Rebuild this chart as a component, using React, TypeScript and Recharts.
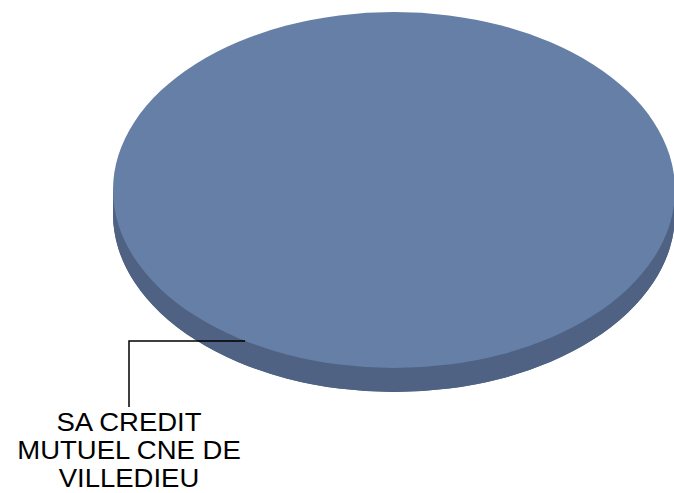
import React from "react";
import { PieChart, Pie, Cell } from "recharts";

const categories: string[] = ["SA CREDIT MUTUEL CNE DE VILLEDIEU"];
const values: number[] = [100];
const topColors: string[] = ["#657fa6"];
const sideColors: string[] = ["#4f6283"];

const data = categories.map((name, i) => ({ name, value: values[i] }));

const ASPECT = 281 / 178; // horizontal stretch of the tilted pie
const DEPTH = 24;
const RADIAN = Math.PI / 180;

function wrap(text: string, max: number): string[] {
  const words = text.split(" ");
  const lines: string[] = [];
  let cur = "";
  words.forEach((w) => {
    const next = cur ? cur + " " + w : w;
    if (next.length > max && cur) {
      lines.push(cur);
      cur = w;
    } else {
      cur = next;
    }
  });
  if (cur) lines.push(cur);
  return lines;
}

const PieShape = (props: any) => {
  const { cx, cy, outerRadius, fill, index } = props;
  const ry = outerRadius;
  const rx = outerRadius * ASPECT;
  const side = sideColors[index % sideColors.length];
  const sidePath = `M ${cx - rx} ${cy} L ${cx - rx} ${cy + DEPTH} A ${rx} ${ry} 0 0 0 ${cx + rx} ${cy + DEPTH} L ${cx + rx} ${cy} Z`;
  return (
    <g>
      <path d={sidePath} fill={side} />
      <ellipse cx={cx} cy={cy + DEPTH} rx={rx} ry={ry} fill={side} />
      <ellipse cx={cx} cy={cy} rx={rx} ry={ry} fill={fill} />
    </g>
  );
};

const renderLabel = (props: any) => {
  const { cx, cy, midAngle, outerRadius, name } = props;
  const ry = outerRadius;
  const rx = outerRadius * ASPECT;
  const sx = cx + rx * Math.cos(-midAngle * RADIAN);
  const sy = cy + ry * Math.sin(-midAngle * RADIAN);
  const ex = 129;
  const ey = sy + 66;
  const lines = wrap(String(name), 13);
  return (
    <g>
      <polyline
        points={`${sx},${sy} ${ex},${sy} ${ex},${ey}`}
        fill="none"
        stroke="#000"
        strokeWidth={1.5}
      />
      <text
        x={ex}
        y={ey + 24}
        textAnchor="middle"
        fontFamily="'Liberation Sans', Arial, sans-serif"
        fontSize={25}
        fill="#000"
        transform={`translate(${ex},0) scale(1.1,1) translate(${-ex},0)`}
      >
        {lines.map((l, i) => (
          <tspan key={i} x={ex} dy={i === 0 ? 0 : 28}>
            {l}
          </tspan>
        ))}
      </text>
    </g>
  );
};

export default function App() {
  return (
    <div style={{ position: "absolute", left: 0, top: 0, width: 674, height: 493, background: "#fff" }}>
      <PieChart width={674} height={493} margin={{ top: 0, right: 0, bottom: 0, left: 0 }}>
        <Pie
          data={data}
          dataKey="value"
          nameKey="name"
          cx={394}
          cy={190}
          outerRadius={178}
          startAngle={58}
          endAngle={418}
          stroke="none"
          shape={PieShape}
          label={renderLabel}
          labelLine={false}
          isAnimationActive={false}
        >
          {data.map((d, i) => (
            <Cell key={d.name} fill={topColors[i % topColors.length]} />
          ))}
        </Pie>
      </PieChart>
    </div>
  );
}
